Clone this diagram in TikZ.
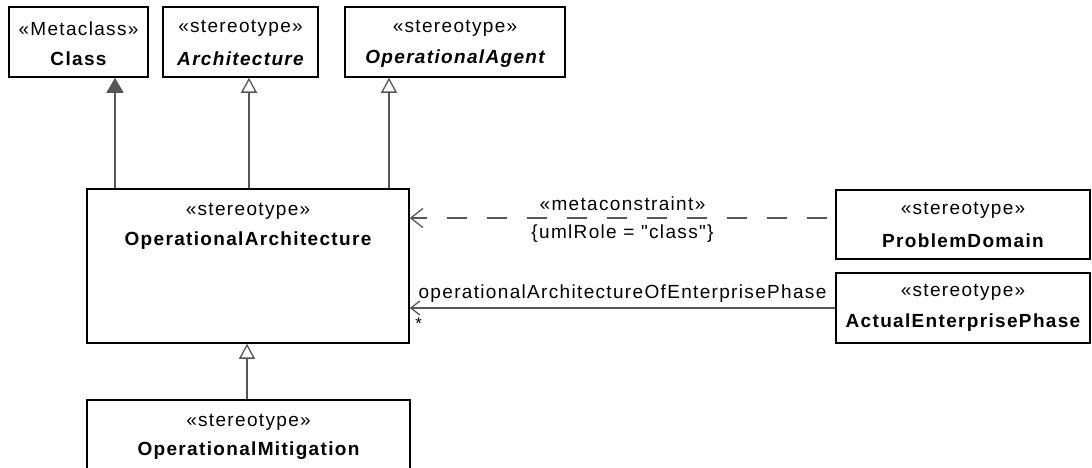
\documentclass[tikz,border=0pt]{standalone}
\usepackage{fontspec}
\setmainfont{Liberation Sans}[LetterSpace=7, Ligatures=TeXOff]
\usetikzlibrary{arrows.meta, positioning}
\definecolor{umlgray}{HTML}{575757}

\begin{document}
\begin{tikzpicture}[
  x=1pt, y=-1pt,
  every node/.style={font=\fontsize{19}{21}\selectfont, inner sep=0pt},
  classbox/.style={draw=black, line width=1.5pt, fill=white},
  stereo/.style={},
  cname/.style={font=\fontsize{19}{21}\selectfont\bfseries},
  absname/.style={font=\fontsize{19}{21}\selectfont\bfseries\itshape},
  link/.style={draw=umlgray, line width=1.3pt},
  generalize/.style={link, -{Triangle[open, length=15pt, width=16pt]}},
  extend/.style={link, -{Triangle[length=15pt, width=17pt, fill=umlgray]}},
  depend/.style={link, dash pattern=on 20pt off 20pt, dash phase=32pt, -{Straight Barb[length=12pt, width=19pt]}},
  assoc/.style={link, -{Straight Barb[length=9pt, width=14pt]}}
]
\useasboundingbox (0,0) rectangle (1092,467);

% classes
\node[classbox, minimum width=139, minimum height=70] (cls) at (78.5,42) {};
\node[stereo] (cls-st) at ([yshift=-22pt]cls.north) {«Metaclass»};
\node[cname] (cls-nm) at ([yshift=-52pt]cls.north) {Class};

\node[classbox, minimum width=155, minimum height=70] (arch) at (240.5,42) {};
\node[stereo] (arch-st) at ([yshift=-22pt]arch.north) {«stereotype»};
\node[absname] (arch-nm) at ([yshift=-52pt]arch.north) {Architecture};

\node[classbox, minimum width=220, minimum height=70] (agent) at (455,42) {};
\node[stereo] (agent-st) at ([yshift=-22pt]agent.north) {«stereotype»};
\node[absname] (agent-nm) at ([yshift=-52pt]agent.north) {OperationalAgent};

\node[classbox, minimum width=322, minimum height=154] (oparch) at (248,266) {};
\node[stereo] (oparch-st) at ([yshift=-23pt]oparch.north) {«stereotype»};
\node[cname] (oparch-nm) at ([yshift=-52pt]oparch.north) {OperationalArchitecture};

\node[classbox, minimum width=254, minimum height=69] (pd) at (963,224.5) {};
\node[stereo] (pd-st) at ([yshift=-21pt]pd.north) {«stereotype»};
\node[cname] (pd-nm) at ([yshift=-51pt]pd.north) {ProblemDomain};

\node[classbox, minimum width=254, minimum height=70] (aep) at (963,308) {};
\node[stereo] (aep-st) at ([yshift=-20pt]aep.north) {«stereotype»};
\node[cname] (aep-nm) at ([yshift=-50pt]aep.north) {ActualEnterprisePhase};

\node[classbox, minimum width=323, minimum height=70] (mitig) at (248.5,435) {};
\node[stereo] (mitig-st) at ([yshift=-23pt]mitig.north) {«stereotype»};
\node[cname] (mitig-nm) at ([yshift=-51pt]mitig.north) {OperationalMitigation};

% generalizations and extension
\coordinate (to-cls) at (115,0);
\coordinate (to-agent) at (389,0);
\draw[extend] (oparch.north -| to-cls) -- (cls.south -| to-cls);
\draw[generalize] ([xshift=1pt]oparch.north) -- ([xshift=1pt]oparch.north |- arch.south);
\draw[generalize] (oparch.north -| to-agent) -- (agent.south -| to-agent);
\draw[generalize] ([xshift=-1.5pt]mitig.north) -- ([xshift=-1.5pt]mitig.north |- oparch.south);

% dependency and association
\coordinate (dep-start) at ([yshift=6.5pt]pd.west);
\draw[depend] (dep-start) -- (oparch.east |- dep-start)
  node[midway, above=7pt] (dep-st) {«metaconstraint»}
  node[midway, below=6pt] (dep-tag) {\{umlRole = "class"\}};
\draw[assoc] (aep.west) -- (oparch.east |- aep.west)
  node[midway, above=5pt] (role) {operationalArchitectureOfEnterprisePhase}
  node[pos=1, anchor=north west, xshift=5pt, yshift=-9pt, font=\fontsize{17}{17}\selectfont] (mult) {*};
\end{tikzpicture}
\end{document}
